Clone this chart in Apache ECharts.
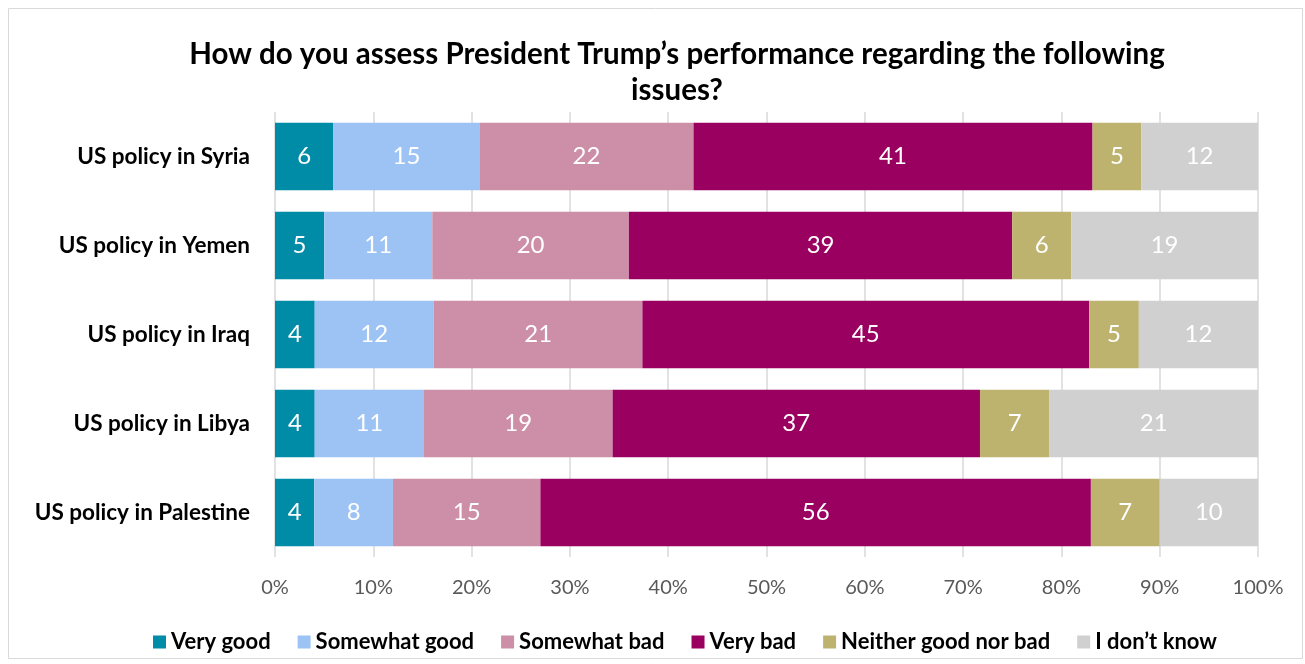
<!DOCTYPE html>
<html><head><meta charset="utf-8">
<script src="https://cdn.jsdelivr.net/npm/echarts@6/dist/echarts.min.js"></script>
<style>html,body{margin:0;padding:0;background:#fff}#c{width:1305px;height:664px}</style>
</head><body><div id="c"></div>
<script>
const categories = ["US policy in Syria","US policy in Yemen","US policy in Iraq","US policy in Libya","US policy in Palestine"];
const seriesNames = ["Very good","Somewhat good","Somewhat bad","Very bad","Neither good nor bad","I don\u2019t know"];
const veryGood = [6,5,4,4,4];
const somewhatGood = [15,11,12,11,8];
const somewhatBad = [22,20,21,19,15];
const veryBad = [41,39,45,37,56];
const neither = [5,6,5,7,7];
const dontKnow = [12,19,12,21,10];
const tickLabels = ["0%","10%","20%","30%","40%","50%","60%","70%","80%","90%","100%"];
const colors = ["#008BA6","#9DC3F4","#CD8FA8","#990060","#BDB36E","#D1D0D1"];

const raw = [veryGood,somewhatGood,somewhatBad,veryBad,neither,dontKnow];
const totals = categories.map((_,i)=>raw.reduce((s,a)=>s+a[i],0));
const FONT = "Lato";
const chart = echarts.init(document.getElementById('c'));
chart.setOption({
  animation:false,
  textStyle:{fontFamily:FONT},
  graphic:[{type:'rect',shape:{x:8.5,y:8.5,width:1294,height:650},style:{fill:'none',stroke:'#D9D9D9',lineWidth:1},z:-1}],
  title:{text:"How do you assess President Trump\u2019s performance regarding the following\nissues?",left:672,textAlign:'center',top:31,
    textStyle:{fontFamily:FONT,fontWeight:'bold',fontSize:29.5,color:'#000',lineHeight:36}},
  legend:{top:626,left:148,itemWidth:13,itemHeight:13,itemGap:27,icon:'rect',
    textStyle:{fontFamily:FONT,fontWeight:'bold',fontSize:22,color:'#000'},data:seriesNames},
  grid:{left:275,right:47,top:112,bottom:107,containLabel:false},
  xAxis:{type:'value',min:0,max:100,interval:10,
    axisLabel:{formatter:(v)=>tickLabels[Math.round(v/10)],color:'#595959',fontSize:20,fontFamily:FONT,margin:21},
    splitLine:{show:true,lineStyle:{color:'#D9D9D9',width:1.5}},axisLine:{show:false},axisTick:{show:false}},
  yAxis:{type:'category',inverse:true,data:categories,
    axisLabel:{color:'#000',fontWeight:'bold',fontSize:22.5,fontFamily:FONT,margin:25},
    axisLine:{show:false},axisTick:{show:false}},
  series:raw.map((arr,k)=>({
    name:seriesNames[k],type:'bar',stack:'total',barCategoryGap:'24%',
    itemStyle:{color:colors[k]},
    label:{show:true,position:'inside',color:'#fff',fontSize:24,fontFamily:FONT,
      formatter:(p)=>String(arr[p.dataIndex])},
    data:arr.map((v,i)=>v/totals[i]*100)
  }))
});
</script></body></html>
